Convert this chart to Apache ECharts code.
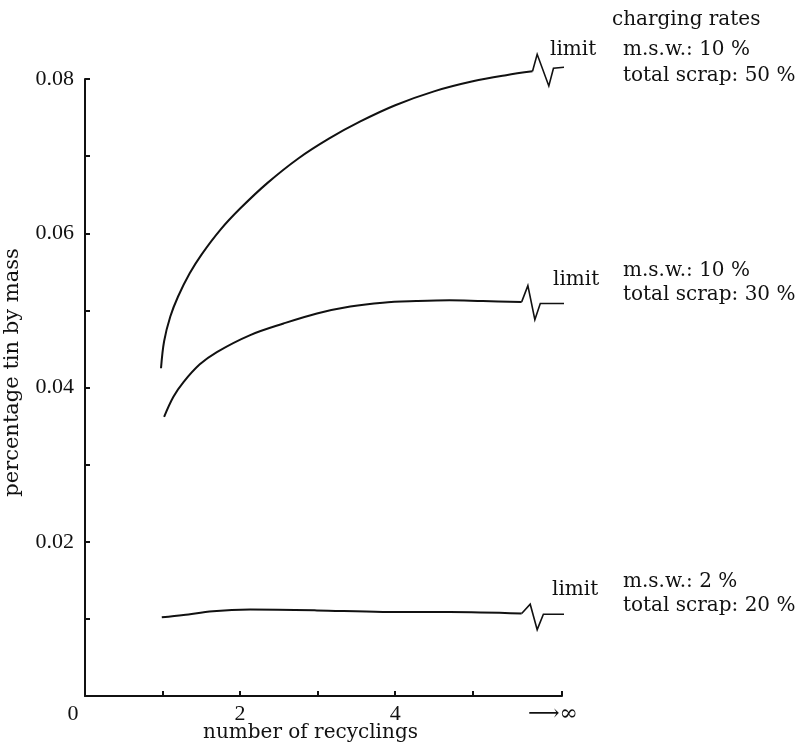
<!DOCTYPE html>
<html>
<head>
<meta charset="utf-8">
<script src="https://cdn.jsdelivr.net/npm/echarts@6/dist/echarts.min.js"></script>
<style>
  html, body { margin: 0; padding: 0; background: #fff; }
  #chart { width: 801px; height: 745px; }
</style>
</head>
<body>
<div id="chart"></div>
<script>
// Position on the x axis that stands for "infinitely many recyclings"
const X_END = 6.15;

// Tin content (mass fraction, %) against number of recyclings
const curveHigh = [[0.98,0.0425],[1.02,0.0460],[1.10,0.0492],[1.20,0.0518],[1.35,0.0548],[1.50,0.0572],[1.75,0.0605],[2.00,0.0632],[2.35,0.0665],[2.75,0.0697],[3.15,0.0723],[3.55,0.0745],[4.00,0.0766],[4.50,0.0784],[5.00,0.0797],[5.43,0.0805],[5.77,0.0810]];
const breakHigh = [[5.77,0.0810],[5.83,0.0832],[5.98,0.0791],[6.04,0.0814],[6.25,0.0816]];

const curveMid = [[1.02,0.0362],[1.14,0.0388],[1.27,0.0407],[1.48,0.0430],[1.70,0.0446],[2.13,0.0468],[2.56,0.0483],[2.99,0.0496],[3.42,0.0505],[3.84,0.0510],[4.27,0.0512],[4.70,0.0513],[5.13,0.0512],[5.63,0.0511]];
const breakMid = [[5.63,0.0511],[5.71,0.0532],[5.80,0.0488],[5.87,0.0509],[6.19,0.0509]];

const curveLow = [[0.99,0.0102],[1.27,0.0105],[1.65,0.0110],[2.13,0.0112],[2.99,0.0111],[3.84,0.0109],[4.70,0.0109],[5.63,0.0107]];
const breakLow = [[5.63,0.0107],[5.74,0.0119],[5.83,0.0086],[5.91,0.0106],[6.19,0.0106]];

// Axis ticks and labels
const xTickValues = [1, 2, 3, 4, 5, X_END];
const xLabelValues = [0, 2, 4, X_END];
const yTickValues = [0.01, 0.02, 0.03, 0.04, 0.05, 0.06, 0.07, 0.08];
const yLabelValues = [0.02, 0.04, 0.06, 0.08];

// Annotation texts
const ratesTitle = 'charging rates';
const limitText = 'limit';
const rateLinesHigh = ['m.s.w.: 10 %', 'total scrap: 50 %'];
const rateLinesMid = ['m.s.w.: 10 %', 'total scrap: 30 %'];
const rateLinesLow = ['m.s.w.: 2 %', 'total scrap: 20 %'];

const SERIF = '"DejaVu Serif", "Liberation Serif", serif';
const DIGITS = '"Liberation Serif", "DejaVu Serif", serif';
const INK = '#111';

const chart = echarts.init(document.getElementById('chart'), null, { renderer: 'canvas' });

function curveSeries(data) {
  return {
    type: 'line', data: data, smooth: 0.35,
    symbol: 'none', clip: false, silent: true,
    lineStyle: { color: INK, width: 2 }
  };
}
function breakSeries(data) {
  return {
    type: 'line', data: data, smooth: false,
    symbol: 'none', clip: false, silent: true,
    lineStyle: { color: INK, width: 1.6, join: 'miter' }
  };
}
function txt(text, x, y) {
  return {
    type: 'text', x: x, y: y,
    style: { text: text, font: '20px ' + SERIF, fill: INK, verticalAlign: 'middle', align: 'left' }
  };
}

const option = {
  backgroundColor: '#fff',
  animation: false,
  grid: { left: 85, right: 239, top: 79, bottom: 49, containLabel: false, outerBoundsMode: 'none' },
  xAxis: {
    type: 'value', min: 0, max: X_END,
    name: 'number of recyclings', nameLocation: 'middle', nameGap: 27, nameMoveOverlap: false,
    nameTextStyle: { fontFamily: SERIF, fontSize: 20, color: INK, padding: [0, 26, 0, 0] },
    axisLine: { show: true, lineStyle: { color: INK, width: 2 } },
    axisTick: { show: true, inside: true, length: 5, customValues: xTickValues, lineStyle: { color: INK, width: 2 } },
    axisLabel: {
      customValues: xLabelValues, margin: 7,
      fontFamily: DIGITS, fontSize: 22, color: INK,
      formatter: function (v) {
        if (v === 0) return '{zero|0}';
        if (v === X_END) return '{inf|⟶∞}';
        return String(v);
      },
      rich: {
        zero: { fontFamily: DIGITS, fontSize: 22, color: INK, padding: [0, 24, 0, 0] },
        inf: { fontFamily: SERIF, fontSize: 22, color: INK, padding: [0, 18, 0, 0] }
      }
    },
    splitLine: { show: false }
  },
  yAxis: {
    type: 'value', min: 0, max: 0.08,
    name: 'percentage tin by mass', nameLocation: 'middle', nameGap: 62, nameRotate: 90, nameMoveOverlap: false,
    nameTextStyle: { fontFamily: SERIF, fontSize: 21, color: INK, padding: [0, 0, 0, 30] },
    axisLine: { show: true, lineStyle: { color: INK, width: 2 } },
    axisTick: { show: true, inside: true, length: 5, customValues: yTickValues, lineStyle: { color: INK, width: 2 } },
    axisLabel: {
      customValues: yLabelValues, margin: 11,
      fontFamily: DIGITS, fontSize: 22, color: INK,
      formatter: function (v) { return v.toFixed(2); }
    },
    splitLine: { show: false }
  },
  series: [
    curveSeries(curveHigh), breakSeries(breakHigh),
    curveSeries(curveMid), breakSeries(breakMid),
    curveSeries(curveLow), breakSeries(breakLow)
  ],
  graphic: [
    txt(ratesTitle, 612, 20),
    txt(limitText, 550, 50),
    txt(rateLinesHigh[0], 623, 50),
    txt(rateLinesHigh[1], 623, 76),
    txt(limitText, 553, 280),
    txt(rateLinesMid[0], 623, 271),
    txt(rateLinesMid[1], 623, 295),
    txt(limitText, 552, 590),
    txt(rateLinesLow[0], 623, 582),
    txt(rateLinesLow[1], 623, 606)
  ]
};

chart.setOption(option);
</script>
</body>
</html>
